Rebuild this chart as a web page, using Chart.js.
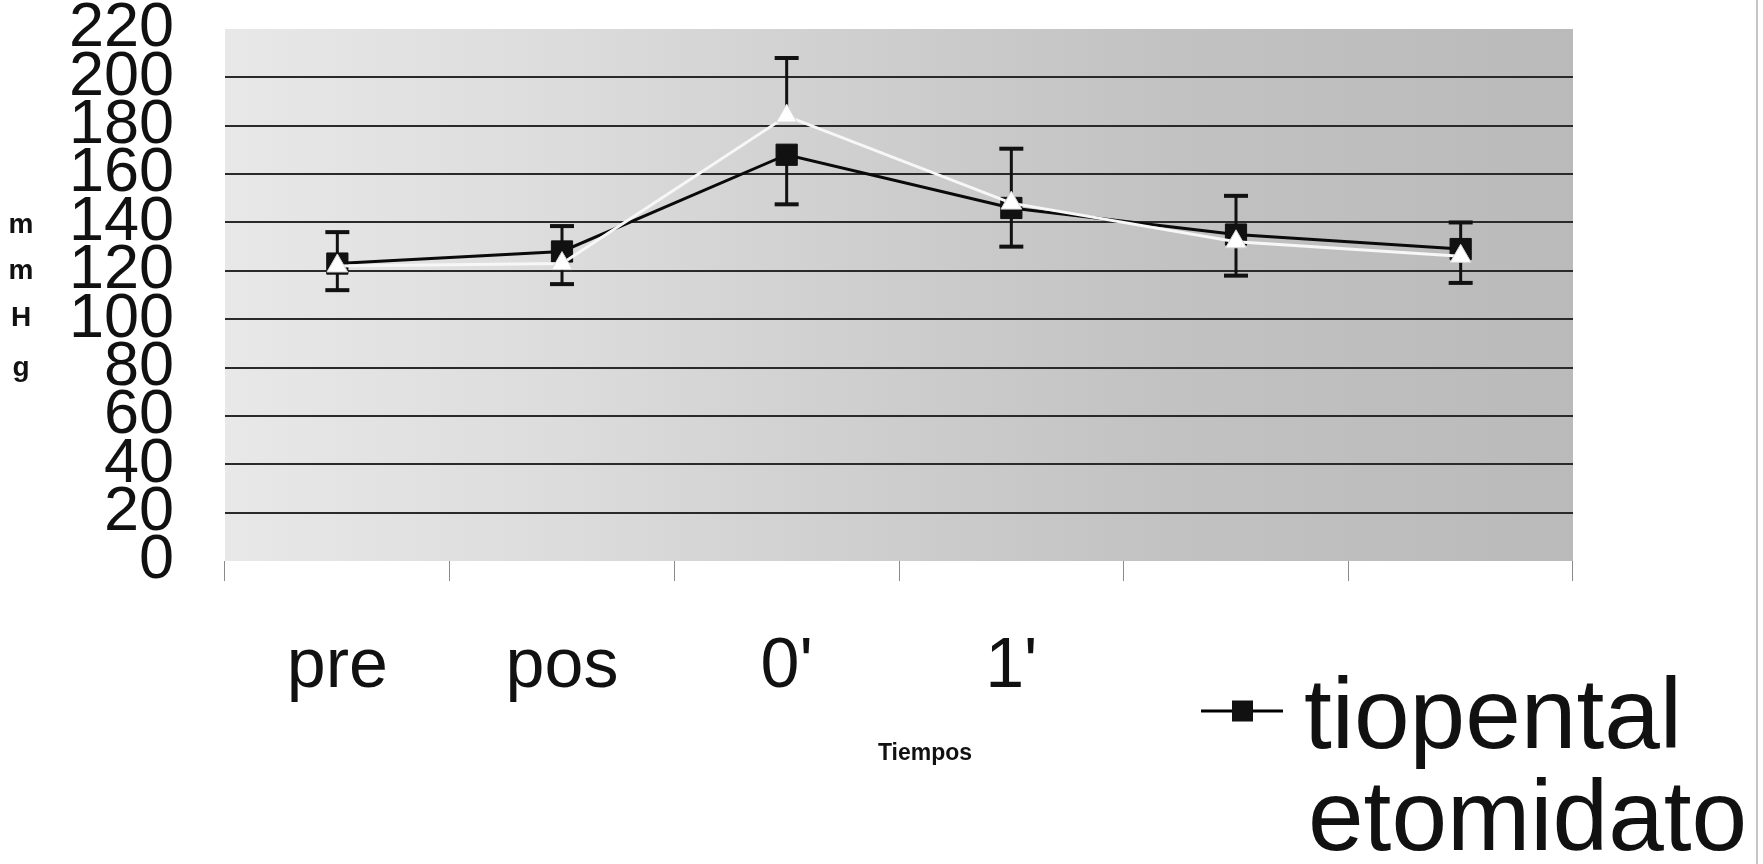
<!DOCTYPE html>
<html><head><meta charset="utf-8">
<script src="https://cdn.jsdelivr.net/npm/chart.js@4"></script>
<style>html,body{margin:0;padding:0;background:#fff;}#wrap{width:1763px;height:864px;position:relative;}</style>
</head><body><div id="wrap"><canvas id="c" width="1763" height="864"></canvas></div>
<script>
// ---- data ----
const categories = ["pre", "pos", "0'", "1'", "5'", "10'"];
const tiopental = [123, 128, 168, 146, 135, 129];
const tiopentalSD = [11, 13.5, 20.5, 16, 17, 14];      // drawn downward (minus)
const etomidato = [122, 123, 184, 148, 132, 126];
const etomidatoSD = [14, 15.5, 24, 22.5, 19, 14];     // drawn upward (plus)
const yTicks = [0, 20, 40, 60, 80, 100, 120, 140, 160, 180, 200, 220];
const seriesNames = ["tiopental", "etomidato"];
const yTitle = ["m", "m", "H", "g"];
const xTitle = "Tiempos";

const FONT = "'Liberation Sans', Arial, sans-serif";

const bgPlugin = {
  id: 'bg',
  beforeDraw(chart) {
    const {ctx, chartArea: a} = chart;
    const g = ctx.createLinearGradient(a.left, 0, a.right, 0);
    g.addColorStop(0, '#e8e8e8');
    g.addColorStop(0.25, '#dcdcdc');
    g.addColorStop(0.5, '#cdcdcd');
    g.addColorStop(0.7, '#c2c2c2');
    g.addColorStop(1, '#bababa');
    ctx.save();
    ctx.fillStyle = g;
    ctx.fillRect(a.left, a.top, a.right - a.left, a.bottom - a.top);
    ctx.restore();
  }
};

const errPlugin = {
  id: 'errbars',
  beforeDatasetsDraw(chart) {
    const {ctx} = chart;
    const xs = chart.scales.x, ys = chart.scales.y;
    const sets = [[tiopental, tiopentalSD, -1], [etomidato, etomidatoSD, 1]];
    ctx.save();
    ctx.strokeStyle = '#111';
    sets.forEach(([vals, sds, dir]) => {
      vals.forEach((v, i) => {
        const x = xs.getPixelForValue(i);
        const y0 = ys.getPixelForValue(v);
        const y1 = ys.getPixelForValue(v + dir * sds[i]);
        ctx.lineWidth = 3;
        ctx.beginPath(); ctx.moveTo(x, y0); ctx.lineTo(x, y1); ctx.stroke();
        ctx.lineWidth = 4;
        ctx.beginPath(); ctx.moveTo(x - 12, y1); ctx.lineTo(x + 12, y1); ctx.stroke();
      });
    });
    ctx.restore();
  }
};

const textPlugin = {
  id: 'texts',
  afterDraw(chart) {
    const {ctx} = chart;
    ctx.save();
    // axis titles
    ctx.fillStyle = '#111';
    ctx.font = 'bold 28px ' + FONT;
    ctx.textAlign = 'center';
    ctx.textBaseline = 'alphabetic';
    const yb = [233, 279, 326, 376];
    yTitle.forEach((ch, i) => ctx.fillText(ch, 21, yb[i]));
    ctx.font = 'bold 23px ' + FONT;
    ctx.fillText(xTitle, 925, 760);
    // legend box
    ctx.fillStyle = '#ffffff';
    ctx.fillRect(1165, 598, 1757 - 1165, 864 - 598);
    // legend entries
    const rows = [
      {y: 711, base: 748, x: 1304, line: '#000', mark: 'rect'},
      {y: 813, base: 850, x: 1308, line: '#ffffff', mark: 'tri'}
    ];
    rows.forEach((r, i) => {
      ctx.strokeStyle = r.line; ctx.lineWidth = 3;
      ctx.beginPath(); ctx.moveTo(1201, r.y); ctx.lineTo(1283, r.y); ctx.stroke();
      if (r.mark === 'rect') {
        ctx.fillStyle = '#111'; ctx.fillRect(1232, r.y - 10.5, 21, 21);
      } else {
        ctx.fillStyle = '#fff';
        ctx.beginPath(); ctx.moveTo(1242, r.y - 12); ctx.lineTo(1253, r.y + 8); ctx.lineTo(1231, r.y + 8); ctx.closePath(); ctx.fill();
      }
      ctx.fillStyle = '#111';
      ctx.font = '100px ' + FONT;
      ctx.textAlign = 'left';
      ctx.fillText(seriesNames[i], r.x, r.base);
    });
    // right frame line
    ctx.strokeStyle = '#c4c4c4'; ctx.lineWidth = 2;
    ctx.beginPath(); ctx.moveTo(1757, 0); ctx.lineTo(1757, 864); ctx.stroke();
    ctx.restore();
  }
};

new Chart(document.getElementById('c'), {
  type: 'line',
  data: {
    labels: categories,
    datasets: [
      {
        label: seriesNames[0], data: tiopental, order: 1,
        borderColor: '#0a0a0a', borderWidth: 3, tension: 0,
        pointStyle: 'rect', pointRadius: 15, pointHoverRadius: 15,
        pointBackgroundColor: '#111', pointBorderColor: '#111', pointBorderWidth: 1
      },
      {
        label: seriesNames[1], data: etomidato, order: 0,
        borderColor: '#f7f7f7', borderWidth: 3, tension: 0,
        pointStyle: 'triangle', pointRadius: 12, pointHoverRadius: 12,
        pointBackgroundColor: '#ffffff', pointBorderColor: '#d6d6d6', pointBorderWidth: 1
      }
    ]
  },
  options: {
    responsive: false,
    animation: false,
    devicePixelRatio: 1,
    layout: {padding: {left: 0, right: 190, top: 29, bottom: 0}},
    plugins: {legend: {display: false}, tooltip: {enabled: false}},
    scales: {
      x: {
        offset: true,
        border: {display: false},
        grid: {offset: true, drawOnChartArea: false, drawTicks: true, tickLength: 20, color: '#8a8a8a', lineWidth: 1},
        ticks: {padding: 45, color: '#111', font: {family: FONT, size: 70}, maxRotation: 0, autoSkip: false},
        afterFit(s) { s.height = 864 - 561; s.paddingLeft = 0; s.paddingRight = 0; }
      },
      y: {
        min: 0, max: 220,
        border: {display: false},
        afterBuildTicks(s) { s.ticks = yTicks.map(v => ({value: v})); },
        grid: {
          drawTicks: false,
          lineWidth: 2,
          color: c => (c.tick && (c.tick.value === 0 || c.tick.value === 220)) ? 'rgba(0,0,0,0)' : '#2a2a2a'
        },
        ticks: {autoSkip: false, padding: 51, color: '#111', font: {family: FONT, size: 63}},
        afterFit(s) { s.width = 225; s.paddingTop = 0; s.paddingBottom = 0; }
      }
    }
  },
  plugins: [bgPlugin, errPlugin, textPlugin]
});
</script>
</body></html>
